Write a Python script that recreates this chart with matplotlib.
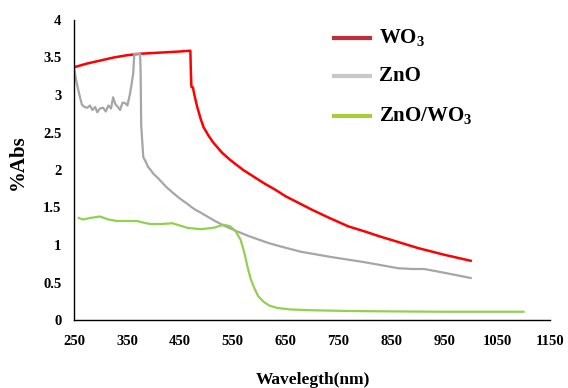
import matplotlib
matplotlib.use("Agg")
import matplotlib.pyplot as plt

plt.rcParams["mathtext.fontset"] = "custom"
plt.rcParams["mathtext.rm"] = "Liberation Serif:bold"
plt.rcParams["mathtext.bf"] = "Liberation Serif:bold"
plt.rcParams["mathtext.it"] = "Liberation Serif:bold"
plt.rcParams["mathtext.default"] = "bf"

wo3_wl = [250, 275, 300, 325, 350, 375, 400, 425, 450, 469, 470, 471, 472, 475, 477, 483,
          490, 495, 505, 514, 530, 546, 570, 590, 610, 630, 650, 675, 700, 730, 768, 800,
          830, 863, 900, 950, 1000]
wo3_abs = [3.37, 3.42, 3.46, 3.50, 3.53, 3.55, 3.56, 3.57, 3.58, 3.59, 3.59, 3.30, 3.11,
           3.10, 3.02, 2.84, 2.67, 2.57, 2.45, 2.36, 2.23, 2.13, 2.00, 1.91, 1.82, 1.74,
           1.65, 1.56, 1.47, 1.37, 1.25, 1.18, 1.11, 1.04, 0.96, 0.87, 0.79]

zno_wl = [250, 254, 258, 262, 265, 270, 275, 280, 285, 290, 294, 299, 305, 310, 315, 320,
          324, 328, 333, 337, 342, 347, 351, 356, 359, 362, 364, 370, 375, 376, 377, 381,
          385, 390, 395, 400, 409, 425, 438, 450, 464, 477, 490, 502, 514, 530, 552, 580,
          616, 641, 679, 736, 800, 863, 890, 912, 950, 1000]
zno_abs = [3.36, 3.20, 3.07, 2.95, 2.87, 2.84, 2.83, 2.86, 2.80, 2.84, 2.77, 2.82, 2.83,
           2.78, 2.86, 2.82, 2.97, 2.88, 2.84, 2.80, 2.90, 2.89, 2.86, 3.02, 3.15, 3.29,
           3.55, 3.55, 3.55, 3.30, 2.60, 2.17, 2.12, 2.04, 2.00, 1.95, 1.89, 1.77, 1.69,
           1.62, 1.55, 1.48, 1.43, 1.38, 1.33, 1.27, 1.20, 1.12, 1.03, 0.98, 0.91, 0.84,
           0.77, 0.69, 0.68, 0.68, 0.63, 0.56]

zw_wl = [259, 267, 280, 299, 315, 331, 350, 369, 380, 394, 415, 436, 450, 464, 489, 514,
         533, 545, 555, 565, 572, 578, 584, 590, 598, 609, 620, 635, 660, 700, 768, 850,
         950, 1050, 1100]
zw_abs = [1.36, 1.34, 1.36, 1.38, 1.34, 1.32, 1.32, 1.32, 1.30, 1.28, 1.28, 1.29, 1.26,
          1.23, 1.21, 1.23, 1.27, 1.25, 1.19, 1.07, 0.90, 0.71, 0.55, 0.44, 0.32, 0.24,
          0.19, 0.16, 0.14, 0.13, 0.12, 0.115, 0.11, 0.11, 0.11]

x_ticks = [250, 350, 450, 550, 650, 750, 850, 950, 1050, 1150]
y_ticks = [0, 0.5, 1, 1.5, 2, 2.5, 3, 3.5, 4]
y_tick_labels = ["0", "0.5", "1", "1.5", "2", "2.5", "3", "3.5", "4"]

serif = ["Liberation Serif", "DejaVu Serif"]

fig = plt.figure(figsize=(5.68, 3.88), dpi=100)
ax = fig.add_axes([74 / 568, 1 - 320 / 388, (550 - 74) / 568, 300 / 388])

ax.plot(wo3_wl, wo3_abs, color="#ff0000", lw=1.8)
ax.plot(zno_wl, zno_abs, color="#a6a6a6", lw=1.6)
ax.plot(zw_wl, zw_abs, color="#92d050", lw=1.6)

ax.set_xlim(250, 1150)
ax.set_ylim(0, 4)
ax.set_xticks(x_ticks)
ax.set_xticklabels([str(t) for t in x_ticks], fontfamily=serif, fontweight="bold", fontsize=10.5)
ax.set_yticks(y_ticks)
ax.set_yticklabels(y_tick_labels, fontfamily=serif, fontweight="bold", fontsize=10.5)
ax.tick_params(length=0)
ax.tick_params(axis="x", pad=11)
ax.tick_params(axis="y", pad=9)
for s in ["top", "right"]:
    ax.spines[s].set_visible(False)
for s in ["left", "bottom"]:
    ax.spines[s].set_color("black")
    ax.spines[s].set_linewidth(1.0)

fig.text(18 / 568, 1 - 162 / 388, "%Abs", rotation=90, ha="center", va="center",
         fontfamily=serif, fontweight="bold", fontsize=15)
fig.text(313 / 568, 1 - 380 / 388, "Wavelegth(nm)", ha="center", va="center",
         fontfamily=serif, fontweight="bold", fontsize=12.5)

# legend
leg = [("WO$_3$", "#c0303a", 38), ("ZnO", "#c8c8c8", 76), ("ZnO/WO$_3$", "#a8cc3a", 116)]
for label, col, yp in leg:
    fig.add_artist(plt.Line2D([334 / 568, 370 / 568], [1 - yp / 388, 1 - yp / 388],
                              color=col, lw=3, transform=fig.transFigure))
    fig.text(379 / 568, 1 - yp / 388, label, ha="left", va="center",
             fontfamily=serif, fontweight="bold", fontsize=15)

fig.savefig("out.png", dpi=100)
